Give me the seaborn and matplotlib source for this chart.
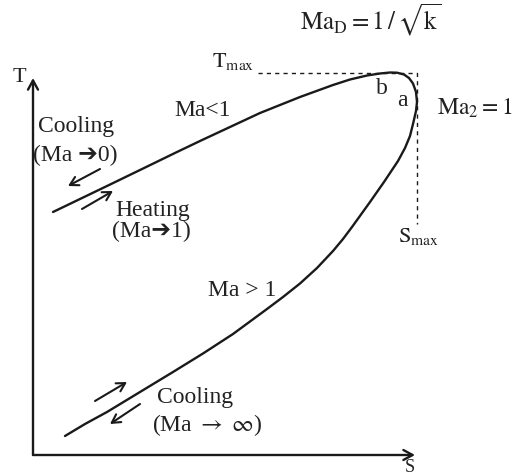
import matplotlib
matplotlib.use("Agg")
import matplotlib.pyplot as plt
import seaborn as sns
import pandas as pd

# Rayleigh line on the T-s plane (entropy s, temperature T, arbitrary units)
s_curve = [20, 47, 74, 107, 144, 167, 197, 227, 267, 300, 317, 334, 347, 357, 364,
           371, 376, 380, 383, 384, 383, 380, 377, 372, 365, 351, 337, 328, 319, 310,
           300, 284, 267, 250, 234, 217, 200, 170, 140, 107, 74, 52, 32]
T_curve = [243, 256, 269, 285, 303, 314, 328, 342, 358, 370, 375.5, 379.5, 381.5, 382.5, 382.3,
           380.5, 377, 371.5, 363, 353, 344, 331, 319, 307, 294, 273, 253, 240.5, 228, 216,
           204, 187, 171.5, 158, 146, 133.5, 121, 101.5, 83, 63, 43, 31, 19]

T_max = 382
S_max = 384
T_axis_top = 377
S_axis_end = 382

sns.set_theme(style="white")
plt.rcParams['font.family'] = ['Liberation Serif', 'DejaVu Sans']
plt.rcParams['mathtext.fontset'] = 'stix'

fig = plt.figure(figsize=(5.13, 4.77), dpi=100)
ax = fig.add_axes([0, 0, 1, 1])
ax.set_xlim(-33, 480)
ax.set_ylim(-21, 456)
ax.axis('off')

ink = '#1a1a1a'
df = pd.DataFrame({'s': s_curve, 'T': T_curve})
sns.lineplot(data=df, x='s', y='T', sort=False, estimator=None, color=ink, lw=1.7, ax=ax)

# Tmax / Smax guides
guide = pd.DataFrame({'s': [225, S_max, S_max], 'T': [T_max, T_max, 231]})
sns.lineplot(data=guide, x='s', y='T', sort=False, estimator=None, color=ink, lw=1.0,
             ax=ax, linestyle=(0, (3, 3)))

# axes arrows
arrow_kw = dict(arrowstyle='->,head_length=0.55,head_width=0.3', color=ink, lw=1.7,
                shrinkA=0, shrinkB=0)
ax.annotate('', xy=(0, T_axis_top), xytext=(0, 0), arrowprops=arrow_kw)
ax.annotate('', xy=(S_axis_end, 0), xytext=(0, 0), arrowprops=arrow_kw)

# process direction arrows
small_kw = dict(arrowstyle='->,head_length=0.5,head_width=0.28', color=ink, lw=1.5,
                shrinkA=0, shrinkB=0)
for (x0, y0, x1, y1) in [(67, 286, 35, 269), (49, 246, 80, 264),
                         (62, 54, 94, 73), (107, 51, 77, 31)]:
    ax.annotate('', xy=(x1, y1), xytext=(x0, y0), arrowprops=small_kw)

fs = 17
tc = '#222222'
ax.text(-14, 379, 'T', fontsize=16, color=tc, ha='center', va='center')
ax.text(372, -20, 'S', fontsize=13, color=tc, ha='left', va='bottom')
ax.text(179, 389, r'$\mathrm{T_{max}}$', fontsize=16, color=tc, ha='left', va='baseline')
ax.text(365, 214, r'$\mathrm{S_{max}}$', fontsize=16, color=tc, ha='left', va='baseline')
ax.text(267, 426, r'$\mathrm{Ma_D} = 1\,/\,\sqrt{\mathrm{k}}$', fontsize=18, color=tc,
        ha='left', va='baseline')
ax.text(404, 341, r'$\mathrm{Ma_2} = 1$', fontsize=fs, color=tc, ha='left', va='baseline')
ax.text(170, 346, 'Ma<1', fontsize=fs, color=tc, ha='center', va='center')
ax.text(349, 367, 'b', fontsize=fs, color=tc, ha='center', va='center')
ax.text(369, 355, 'a', fontsize=fs, color=tc, ha='center', va='center')
ax.text(5, 324, 'Cooling', fontsize=fs, color=tc, ha='left', va='baseline')
ax.text(0, 295, '(Ma \u27940)', fontsize=fs, color=tc, ha='left', va='baseline')
ax.text(82, 240, 'Heating', fontsize=fs, color=tc, ha='left', va='baseline')
ax.text(79, 219, '(Ma\u27941)', fontsize=fs, color=tc, ha='left', va='baseline')
ax.text(175, 160, 'Ma > 1', fontsize=fs, color=tc, ha='left', va='baseline')
ax.text(124, 53, 'Cooling', fontsize=fs, color=tc, ha='left', va='baseline')
ax.text(119, 25, r'(Ma $\rightarrow$ $\infty$)', fontsize=fs, color=tc, ha='left',
        va='baseline')

fig.savefig('out.png', dpi=100)
